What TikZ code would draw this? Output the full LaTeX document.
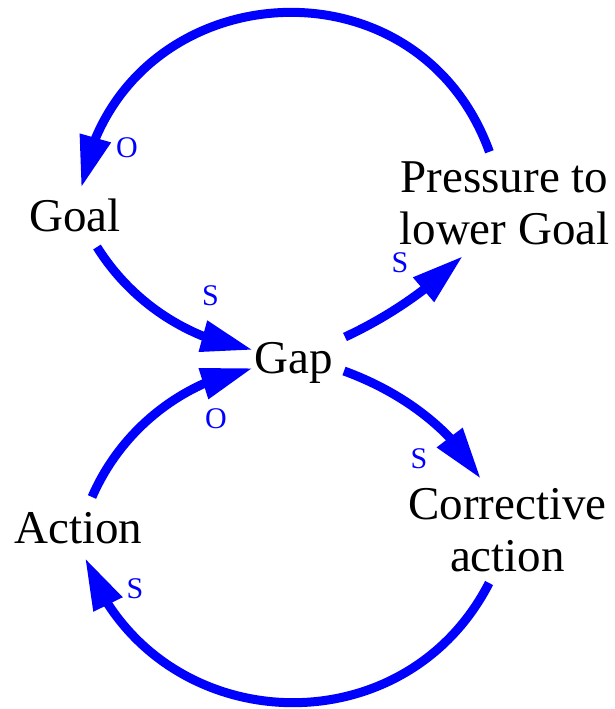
\documentclass[tikz,border=0pt]{standalone}
\usepackage{fontspec}
\setmainfont{Liberation Serif}
\usetikzlibrary{arrows.meta,bending}
\definecolor{linkblue}{RGB}{0,0,255}
\tikzset{
  var/.style={font=\fontsize{47}{52}\selectfont, inner sep=0pt, align=center, anchor=base},
  pol/.style={font=\fontsize{30}{32}\selectfont, text=linkblue, inner sep=0pt},
  link/.style={draw=linkblue, line width=9pt,
    -{Triangle[length=52pt,width=30pt,flex]}},
}
\begin{document}
\begin{tikzpicture}[x=1pt,y=1pt]
  \useasboundingbox (0,0) rectangle (614,-709);

  % variables (base anchor sits on the last line of a two-line name)
  \node[var] (goal) at (75,-231) {Goal};
  \node[var] (pres) at (504.5,-244) {Pressure to\\lower Goal};
  \node[var] (gap) at (293.5,-373) {Gap};
  \node[var] (corr) at (507.5,-571) {Corrective\\action};
  \node[var] (act) at (78.5,-543) {Action};

  % link end points
  \coordinate (goal-out) at (97,-247);
  \coordinate (goal-in) at (81.1,-187.9);
  \coordinate (gap-in-top) at (253,-350);
  \coordinate (gap-in-bottom) at (253,-368);
  \coordinate (gap-out-up) at (345,-337);
  \coordinate (gap-out-down) at (344,-371);
  \coordinate (pres-in) at (463,-256);
  \coordinate (pres-out) at (489.4,-151.8);
  \coordinate (corr-in) at (481,-479);
  \coordinate (corr-out) at (489.1,-583);
  \coordinate (act-in) at (85,-557.9);
  \coordinate (act-out) at (92,-497);

  % causal links
  \draw[link] (pres-out) to[out=109.9, in=80.2, looseness=1.357] (goal-in);
  \draw[link] (goal-out) to[out=-58, in=171.2, looseness=0.892] (gap-in-top);
  \draw[link] (gap-out-up) to[out=25, in=-136, looseness=0.86] (pres-in);
  \draw[link] (gap-out-down) to[out=-20, in=120, looseness=0.87] (corr-in);
  \draw[link] (corr-out) to[out=-117.2, in=-69.9, looseness=1.215] (act-in);
  \draw[link] (act-out) to[out=66.5, in=-169.1, looseness=0.904] (gap-in-bottom);

  % polarities
  \node[pol] (p1) at (127,-148) {O};
  \node[pol] (p2) at (210.5,-296) {S};
  \node[pol] (p3) at (400,-263) {S};
  \node[pol] (p4) at (419,-459) {S};
  \node[pol] (p5) at (216,-419) {O};
  \node[pol] (p6) at (135,-589) {S};
\end{tikzpicture}
\end{document}
